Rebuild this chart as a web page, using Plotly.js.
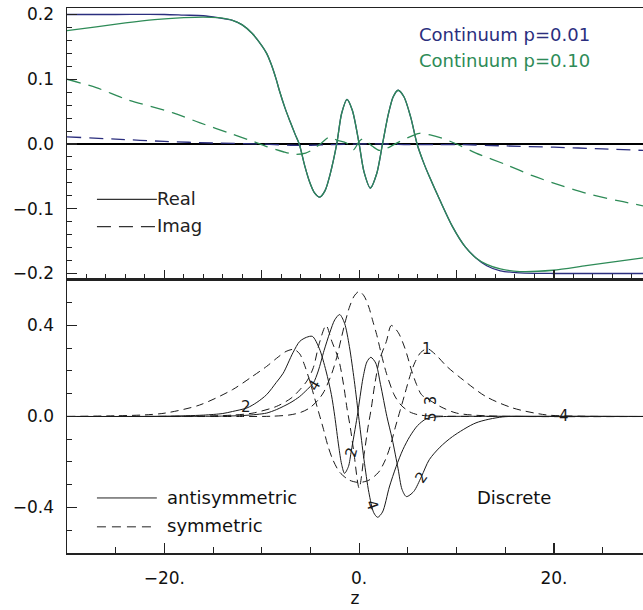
<!DOCTYPE html>
<html>
<head>
<meta charset="utf-8">
<script src="https://cdn.plot.ly/plotly-3.0.1.min.js"></script>
<style>html,body{margin:0;padding:0;background:#fff}</style>
</head>
<body>
<div id="chart" style="width:643px;height:610px"></div>
<script>
// ---------- Top panel: continuum (Real = solid, Imag = dashed) ----------
const zGreenRe = [-30,-27,-24,-21,-18,-16,-14.5,-13,-12,-11,-10,-9.5,-9,-8.5,-8.2,-7.6,-7.1,-6.6,-6.15,-5.6,-5.1,-4.6,-4.05,-3.5,-3,-2.3,-1.8,-1.25,-0.7,0,0.5,1.15,1.8,2.4,3,3.5,4,4.6,5.3,5.95,6.6,7.2,8.3,9.6,10.9,12,13.1,14.5,16.5,19.9,23.3,26.7,30];
const greenRe  = [0.175,0.181,0.187,0.192,0.195,0.196,0.195,0.191,0.184,0.171,0.152,0.140,0.122,0.099,0.083,0.055,0.035,0.016,0,-0.033,-0.058,-0.075,-0.082,-0.072,-0.048,0,0.047,0.069,0.052,0,-0.043,-0.068,-0.046,0,0.046,0.073,0.083,0.073,0.041,0,-0.028,-0.05,-0.087,-0.128,-0.159,-0.176,-0.186,-0.193,-0.197,-0.195,-0.188,-0.181,-0.174];

const zBlueRe = [-30,-25,-20,-18,-16,-14.5,-13,-12,-11,-10,-9.5,-9,-8.5,-8.2,-7.6,-7.1,-6.6,-6.15,-5.6,-5.1,-4.6,-4.05,-3.5,-3,-2.3,-1.8,-1.25,-0.7,0,0.5,1.15,1.8,2.4,3,3.5,4,4.6,5.3,5.95,6.6,7.2,8.3,9.6,10.9,12,13.1,14.5,16.5,20,25,30];
const blueRe  = [0.2,0.2,0.2,0.199,0.198,0.195,0.191,0.184,0.171,0.152,0.140,0.122,0.099,0.083,0.055,0.035,0.016,0,-0.033,-0.058,-0.075,-0.082,-0.072,-0.048,0,0.047,0.069,0.052,0,-0.043,-0.068,-0.046,0,0.046,0.073,0.083,0.073,0.041,0,-0.028,-0.05,-0.087,-0.128,-0.159,-0.176,-0.188,-0.196,-0.199,-0.2,-0.2,-0.2];

const zGreenIm = [-30,-27,-23.9,-19.1,-16.4,-13,-10.9,-9.5,-7.8,-6.6,-5.5,-4.8,-4,-3,-2.3,-1.3,-0.6,0,0.4,1.4,2.1,2.8,3.8,4.9,6.2,7.3,8.5,10,12,15.1,17.8,19.9,23.3,26.7,30];
const greenIm  = [0.1,0.087,0.069,0.048,0.033,0.015,0.004,-0.004,-0.012,-0.016,-0.014,-0.009,0,0.011,0.006,0.0015,-0.009,0.004,0.008,-0.004,-0.01,-0.007,0.001,0.009,0.0165,0.014,0.009,0,-0.014,-0.032,-0.049,-0.06,-0.076,-0.088,-0.098];

const zBlueIm = [-30,-25,-20,-15,-10,-7,-5,-3,0,3,5,8,10,15,20,25,30];
const blueIm  = [0.011,0.0075,0.004,0.0015,0,-0.002,-0.002,-0.001,0,0,-0.001,-0.001,-0.0008,-0.003,-0.005,-0.0075,-0.0105];

// ---------- Bottom panel: discrete modes ----------
// symmetric (dashed): modes 1, 3, 5 ; antisymmetric (solid): modes 2, 4
const zMode1 = [-30,-25,-22,-19.9,-16.4,-13,-11,-9.5,-8.5,-7.5,-6.7,-6.1,-5.6,-5.1,-4.6,-4.2,-3.7,-3.2,-2.7,-2,-1,0,1,2,2.7,3.2,3.7,4.2,4.7,5.2,5.7,6.3,7,7.9,9,10.7,13,15.8,19.2,23,30];
const mode1  = [0,0.003,0.007,0.015,0.05,0.118,0.175,0.22,0.255,0.286,0.295,0.275,0.225,0.16,0.085,0.025,-0.05,-0.13,-0.19,-0.245,-0.28,-0.29,-0.28,-0.245,-0.19,-0.13,-0.05,0.025,0.1,0.175,0.235,0.28,0.298,0.27,0.22,0.16,0.088,0.037,0.007,0.001,0];

const zMode3 = [-30,-16,-13,-10.9,-8.5,-7,-6.1,-5.3,-4.7,-4.1,-3.4,-2.8,-2.1,-1.6,-1.25,-0.9,-0.55,0,0.55,0.9,1.25,1.6,2.1,2.8,3.3,4,4.7,5.4,5.9,6.4,7.3,8.5,10,13,30];
const mode3  = [0,0.002,0.006,0.015,0.044,0.08,0.117,0.16,0.215,0.32,0.40,0.33,0.25,0.14,0.037,-0.05,-0.155,-0.315,-0.155,-0.05,0.037,0.14,0.25,0.33,0.40,0.37,0.30,0.20,0.14,0.096,0.07,0.04,0.015,0.003,0];

const zMode5 = [-30,-12,-9,-7.1,-6,-5.1,-4.2,-3.6,-2.8,-2.3,-1.8,-1.4,-1,-0.5,0,0.5,1,1.4,1.8,2.3,2.8,3.6,4.3,5.2,6,7,9,12,30];
const mode5  = [0,0,0.001,0.007,0.018,0.037,0.073,0.11,0.19,0.26,0.35,0.42,0.48,0.53,0.55,0.53,0.48,0.42,0.36,0.27,0.19,0.095,0.05,0.02,0.008,0.003,0.001,0,0];

const zMode2 = [-30,-20,-16,-14,-13,-11.5,-10.5,-9.5,-8.5,-7.8,-6.8,-6.1,-5.4,-4.8,-4.1,-3.4,-2.85,-2.5,-2.1,-1.8,-1.5,-1.1,-0.8,-0.2,0.4,0.8,1.2,1.7,2.2,2.85,3.4,4.0,4.4,4.85,5.6,6.4,7.2,8.3,9.6,12,14.7,18,30];
const mode2  = [0,0.001,0.006,0.013,0.022,0.038,0.062,0.096,0.15,0.19,0.28,0.33,0.348,0.352,0.30,0.20,0.096,0,-0.13,-0.21,-0.25,-0.22,-0.15,0,0.17,0.24,0.26,0.235,0.14,0,-0.1,-0.23,-0.32,-0.352,-0.33,-0.264,-0.19,-0.135,-0.088,-0.028,-0.002,0,0];

const zMode4 = [-30,-15,-12,-10.5,-9.5,-8.5,-7.8,-7,-6.1,-5.3,-4.7,-4.2,-3.6,-3,-2.5,-2,-1.5,-1,-0.5,0,0.5,1,1.5,1.9,2.4,3.1,3.8,4.5,5.2,6,6.9,7.9,9,30];
const mode4  = [0,0.001,0.004,0.009,0.015,0.03,0.044,0.062,0.088,0.12,0.147,0.2,0.29,0.37,0.425,0.448,0.41,0.307,0.158,-0.018,-0.19,-0.334,-0.423,-0.443,-0.42,-0.31,-0.22,-0.145,-0.088,-0.04,-0.01,-0.002,0,0];

// curve labels (text, z, value, angle)
const labelText  = ['2','4','2','4','2','1','3','5','4'];
const labelZ     = [-11.6,-4.6,-0.8,1.3,6.4,7.0,7.4,7.4,21];
const labelVal   = [0.04,0.14,-0.155,-0.39,-0.264,0.295,0.072,0.0,0.0];
const labelAngle = [0,-60,-75,70,-55,0,-90,-80,0];

const NAVY = '#2b2e7e', GREEN = '#2e8b57', INK = '#1a1a1a';
const FONT = 'DejaVu Sans';

const traces = [
  {x:zBlueRe, y:blueRe, xaxis:'x', yaxis:'y', mode:'lines', line:{color:NAVY,width:1.3,shape:'spline',smoothing:0.8}},
  {x:zBlueIm, y:blueIm, xaxis:'x', yaxis:'y', mode:'lines', line:{color:NAVY,width:1.3,dash:'14px,8px',shape:'spline',smoothing:0.8}},
  {x:zGreenRe, y:greenRe, xaxis:'x', yaxis:'y', mode:'lines', line:{color:GREEN,width:1.3,shape:'spline',smoothing:0.8}},
  {x:zGreenIm, y:greenIm, xaxis:'x', yaxis:'y', mode:'lines', line:{color:GREEN,width:1.3,dash:'14px,8px',shape:'spline',smoothing:0.8}},
  {x:zMode1, y:mode1, xaxis:'x2', yaxis:'y2', mode:'lines', line:{color:INK,width:1,dash:'8px,5px',shape:'spline',smoothing:0.8}},
  {x:zMode3, y:mode3, xaxis:'x2', yaxis:'y2', mode:'lines', line:{color:INK,width:1,dash:'8px,5px',shape:'spline',smoothing:0.8}},
  {x:zMode5, y:mode5, xaxis:'x2', yaxis:'y2', mode:'lines', line:{color:INK,width:1,dash:'8px,5px',shape:'spline',smoothing:0.8}},
  {x:zMode2, y:mode2, xaxis:'x2', yaxis:'y2', mode:'lines', line:{color:INK,width:1,shape:'spline',smoothing:0.8}},
  {x:zMode4, y:mode4, xaxis:'x2', yaxis:'y2', mode:'lines', line:{color:INK,width:1,shape:'spline',smoothing:0.8}}
];

const axCommon = {showline:true, linecolor:'#222', linewidth:1.5, ticks:'inside', tickcolor:'#222', ticklen:10, tickwidth:1.2,
  showgrid:false, tickfont:{family:FONT,size:17,color:'#111'}};

const annotations = [];
for (let i = 0; i < labelText.length; i++) {
  annotations.push({xref:'x2', yref:'y2', x:labelZ[i], y:labelVal[i], text:labelText[i], showarrow:false,
    textangle:labelAngle[i], font:{family:FONT,size:15,color:INK}});
}
const txt = (x,y,t,c) => ({xref:'paper', yref:'paper', x:x, y:y, xanchor:'left', yanchor:'middle', text:t, showarrow:false,
  font:{family:FONT,size:18,color:c}});
annotations.push(txt(0.608,0.951,'Continuum p=0.01',NAVY));
annotations.push(txt(0.608,0.903,'Continuum p=0.10',GREEN));
annotations.push(txt(0.153,0.650,'Real','#222'));
annotations.push(txt(0.153,0.601,'Imag','#222'));
annotations.push(txt(0.170,0.101,'antisymmetric','#111'));
annotations.push(txt(0.170,0.050,'symmetric','#111'));
annotations.push(txt(0.708,0.101,'Discrete','#111'));

const shapes = [
  {type:'line', xref:'paper', yref:'paper', x0:0.052, x1:0.156, y0:0.649, y1:0.649, line:{color:'#333',width:1.2}},
  {type:'line', xref:'paper', yref:'paper', x0:0.052, x1:0.156, y0:0.599, y1:0.599, line:{color:'#333',width:1.2,dash:'14px,8px'}},
  {type:'line', xref:'paper', yref:'paper', x0:0.052, x1:0.156, y0:0.101, y1:0.101, line:{color:'#222',width:1}},
  {type:'line', xref:'paper', yref:'paper', x0:0.052, x1:0.156, y0:0.048, y1:0.048, line:{color:'#222',width:1,dash:'9px,6px'}}
];

const layout = {
  width:643, height:610,
  margin:{l:67, r:0, t:8, b:57},
  paper_bgcolor:'#fff', plot_bgcolor:'#fff',
  showlegend:false,
  font:{family:FONT, size:16, color:'#111'},
  xaxis: Object.assign({}, axCommon, {domain:[0,1], anchor:'y', range:[-30,29.15], mirror:true,
    tick0:0, dtick:10, showticklabels:false, zeroline:false,
    minor:{ticks:'inside', tick0:0, dtick:2, ticklen:6, tickcolor:'#222', tickwidth:1}}),
  yaxis: Object.assign({}, axCommon, {domain:[0.501,1], anchor:'x', range:[-0.21,0.21],
    tick0:0, dtick:0.1, tickformat:'.1f', ticklabelstandoff:8,
    zeroline:true, zerolinecolor:'#000', zerolinewidth:1.5,
    minor:{ticks:'inside', tick0:0, dtick:0.02, ticklen:5, tickcolor:'#222', tickwidth:1}}),
  xaxis2: Object.assign({}, axCommon, {domain:[0,1], anchor:'y2', range:[-30,29.15], mirror:true,
    tick0:0, dtick:20, ticksuffix:'.', ticklabelstandoff:9, zeroline:false,
    minor:{ticks:'inside', tick0:0, dtick:5, ticklen:6, tickcolor:'#222', tickwidth:1},
    title:{text:'z', standoff:4, font:{family:FONT,size:17,color:'#111'}}}),
  yaxis2: Object.assign({}, axCommon, {domain:[0,0.501], anchor:'x2', range:[-0.6,0.6],
    tick0:0, dtick:0.4, tickformat:'.1f', ticklabelstandoff:8, zeroline:false,
    minor:{ticks:'inside', tick0:0, dtick:0.1, ticklen:5, tickcolor:'#222', tickwidth:1}}),
  annotations: annotations,
  shapes: shapes
};

Plotly.newPlot('chart', traces, layout, {staticPlot:true, displayModeBar:false});
</script>
</body>
</html>
